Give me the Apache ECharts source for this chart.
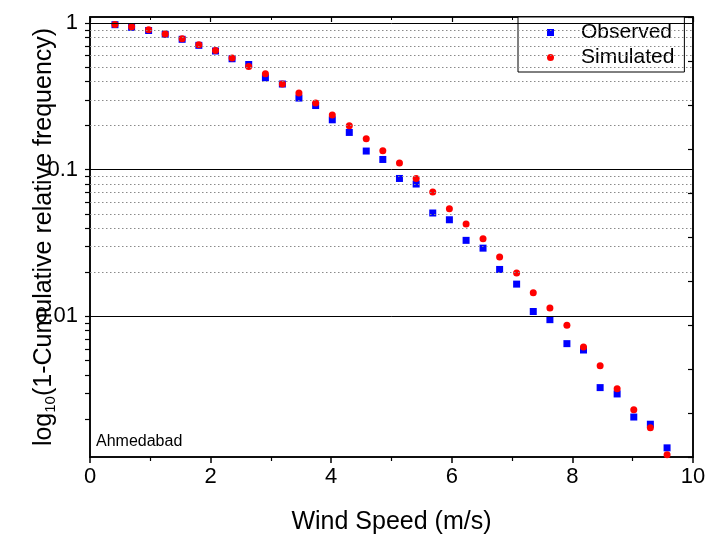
<!DOCTYPE html>
<html>
<head>
<meta charset="utf-8">
<script src="https://cdn.jsdelivr.net/npm/echarts@6/dist/echarts.min.js"></script>
<style>html,body{margin:0;padding:0;background:#fff}#c{width:708px;height:536px}</style>
</head>
<body>
<div id="c"></div>
<script>
const windSpeedObs = [0.414,0.690,0.972,1.247,1.528,1.805,2.081,2.356,2.632,2.909,3.190,3.465,3.742,4.018,4.300,4.581,4.856,5.132,5.409,5.684,5.960,6.237,6.518,6.793,7.075,7.351,7.627,7.909,8.184,8.460,8.742,9.018,9.293,9.570,9.846];
const observed = [0.975,0.935,0.890,0.838,0.775,0.705,0.645,0.571,0.522,0.424,0.384,0.308,0.274,0.219,0.1796,0.1341,0.1175,0.0872,0.0799,0.0507,0.0456,0.0330,0.0292,0.0209,0.0166,0.0108,0.0095,0.00652,0.0059,0.00327,0.00296,0.00206,0.00184,0.00127,0.00105];
const windSpeedSim = [0.414,0.690,0.972,1.247,1.528,1.805,2.081,2.356,2.632,2.909,3.190,3.465,3.742,4.018,4.300,4.581,4.856,5.132,5.409,5.684,5.960,6.237,6.518,6.793,7.075,7.351,7.627,7.909,8.184,8.460,8.742,9.018,9.293,9.570];
const simulated = [0.979,0.944,0.900,0.841,0.782,0.711,0.651,0.578,0.506,0.451,0.384,0.333,0.285,0.236,0.1995,0.1627,0.1348,0.1111,0.0872,0.0705,0.0542,0.0426,0.0339,0.0254,0.0198,0.0145,0.0114,0.00869,0.00618,0.00461,0.00321,0.00231,0.00174,0.00114];
const yMajorTicks = [0.01, 0.1, 1];
const yMinorTicks = [0.002,0.003,0.004,0.005,0.006,0.007,0.008,0.009,0.02,0.03,0.04,0.05,0.06,0.07,0.08,0.09,0.2,0.3,0.4,0.5,0.6,0.7,0.8,0.9];
const xTickLabels = [0, 2, 4, 6, 8, 10];

const FONT = 'Liberation Sans, Arial, sans-serif';
const chart = echarts.init(document.getElementById('c'), null, {renderer: 'canvas'});
const zip = (xs, ys) => xs.map((x, i) => [x, ys[i]]);
const isPow10 = v => Math.abs(Math.log10(v) - Math.round(Math.log10(v))) < 1e-6;

chart.setOption({
  animation: false,
  backgroundColor: '#fff',
  textStyle: {fontFamily: FONT},
  title: {
    text: 'Ahmedabad', left: 91, top: 429,
    textStyle: {fontSize: 16, fontWeight: 'normal', color: '#000', fontFamily: FONT}
  },
  grid: {left: 90, top: 17, right: 15, bottom: 79, show: true, borderColor: '#000', borderWidth: 1.5,
         containLabel: false, outerBoundsMode: 'none'},
  legend: {
    orient: 'vertical', left: 518, top: 17,
    data: [{name: 'Observed', icon: 'rect'}, {name: 'Simulated', icon: 'circle'}],
    itemWidth: 7, itemHeight: 7, itemGap: 4,
    padding: [5, 10, 4, 29],
    backgroundColor: '#fff', borderColor: '#000', borderWidth: 1,
    textStyle: {fontSize: 21, color: '#000', fontFamily: FONT, padding: [0, 0, 0, 22]}
  },
  xAxis: [{
    type: 'value', min: 0, max: 10, interval: 2, position: 'bottom',
    name: 'Wind Speed (m/s)', nameLocation: 'middle', nameGap: 53, nameMoveOverlap: false,
    nameTextStyle: {fontSize: 25, color: '#000', fontFamily: FONT},
    axisLine: {show: true, onZero: false, lineStyle: {color: '#000', width: 1.5}},
    axisTick: {show: true, inside: false, length: 6, lineStyle: {color: '#000', width: 1.5}},
    minorTick: {show: true, splitNumber: 2, length: 4, lineStyle: {color: '#000', width: 1.2}},
    axisLabel: {fontSize: 22, color: '#000', margin: 9, fontFamily: FONT,
      formatter: v => xTickLabels.includes(v) ? String(v) : ''},
    splitLine: {show: false}
  }, {
    type: 'value', min: 0, max: 10, interval: 2, position: 'top',
    axisLine: {show: true, onZero: false, lineStyle: {color: '#000', width: 1.5}},
    axisTick: {show: true, inside: true, length: 5, lineStyle: {color: '#000', width: 1.2}},
    minorTick: {show: true, splitNumber: 2, length: 3, lineStyle: {color: '#000', width: 1}},
    axisLabel: {show: false}, splitLine: {show: false}
  }],
  yAxis: [{
    type: 'log', logBase: 10, min: 0.0011, max: 1.1, position: 'left',
    name: '{a|log}{b|10}{a|(1-Cumulative relative frequency)}',
    nameLocation: 'middle', nameGap: 32, nameRotate: 90, nameMoveOverlap: false,
    nameTextStyle: {color: '#000', rich: {
      a: {fontSize: 25, fontFamily: FONT, color: '#000', lineHeight: 27},
      b: {fontSize: 15, fontFamily: FONT, color: '#000', verticalAlign: 'bottom', lineHeight: 15, padding: [8, 0, 0, 0]}
    }},
    axisLine: {show: true, onZero: false, lineStyle: {color: '#000', width: 1.5}},
    axisTick: {show: true, inside: false, length: 5, customValues: yMajorTicks.concat(yMinorTicks), lineStyle: {color: '#000', width: 1.2}},
    axisLabel: {fontSize: 22, color: '#000', margin: 12, fontFamily: FONT, customValues: yMajorTicks,
      formatter: v => isPow10(v) ? String(Number(v.toPrecision(3))) : ''},
    splitLine: {show: false}
  }, {
    type: 'value', min: 0, max: 10, interval: 1, position: 'right',
    axisLine: {show: true, onZero: false, lineStyle: {color: '#000', width: 1.5}},
    axisTick: {show: true, inside: true, length: 5, lineStyle: {color: '#000', width: 1.2}},
    axisLabel: {show: false}, splitLine: {show: false}
  }],
  series: [{
    name: 'grid', type: 'scatter', xAxisIndex: 0, yAxisIndex: 0, data: [], z: 1, silent: true,
    markLine: {
      silent: true, symbol: ['none', 'none'], label: {show: false}, animation: false,
      data: yMinorTicks.map(v => ({yAxis: v, lineStyle: {type: [1.5, 2.5], color: '#8a8a8a', width: 1}}))
        .concat(yMajorTicks.map(v => ({yAxis: v, lineStyle: {type: 'solid', color: '#000', width: 1}})))
    }
  }, {
    name: 'Observed', type: 'scatter', xAxisIndex: 0, yAxisIndex: 0, z: 3,
    symbol: 'rect', symbolSize: 7, itemStyle: {color: '#0000ff', opacity: 1},
    data: zip(windSpeedObs, observed)
  }, {
    name: 'Simulated', type: 'scatter', xAxisIndex: 0, yAxisIndex: 0, z: 4,
    symbol: 'circle', symbolSize: 7, itemStyle: {color: '#ff0000', opacity: 1},
    data: zip(windSpeedSim, simulated)
  }]
});
</script>
</body>
</html>
